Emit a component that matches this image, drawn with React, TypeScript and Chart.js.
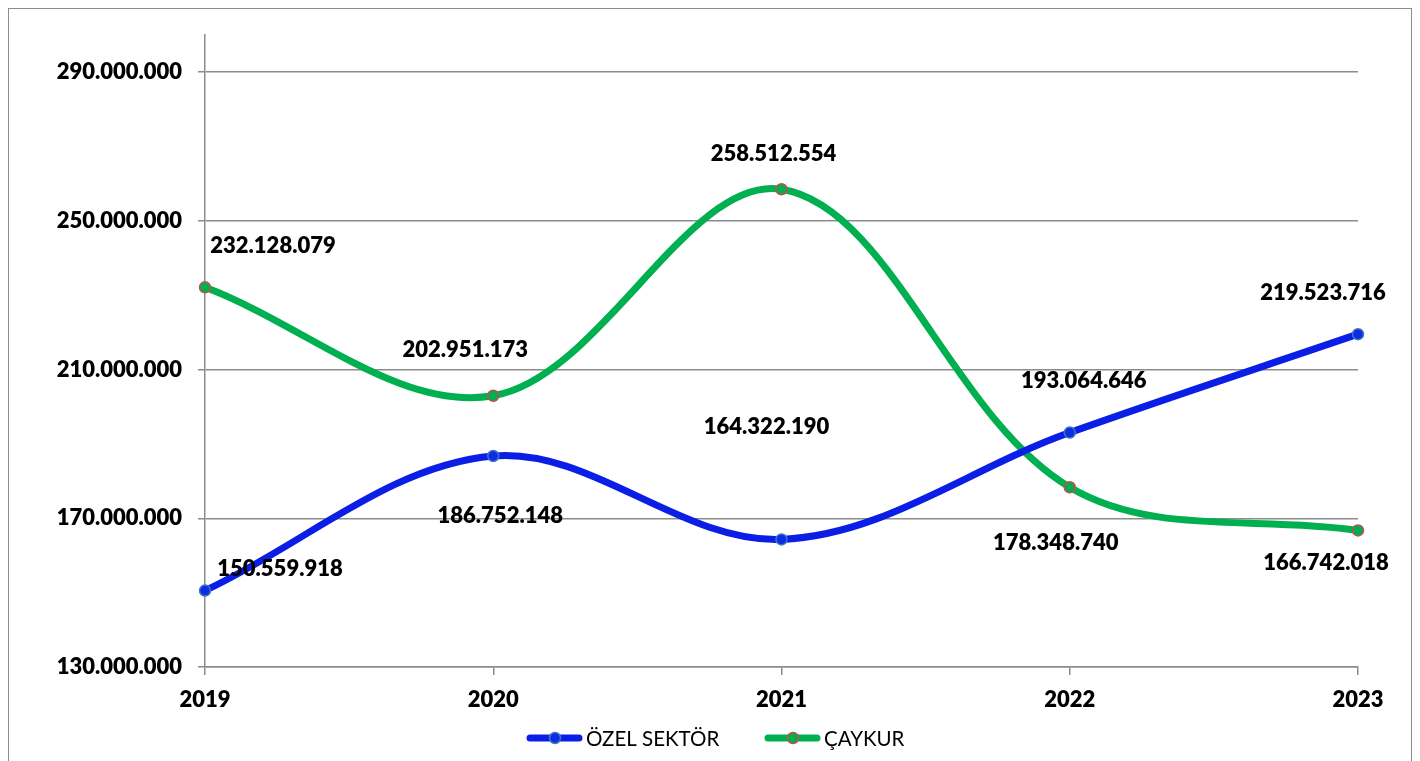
import React, { useEffect, useRef } from "react";
import { Chart, registerables } from "chart.js";

Chart.register(...registerables);

const years = ["2019", "2020", "2021", "2022", "2023"];
const ozelSektor = [150559918, 186752148, 164322190, 193064646, 219523716];
const caykur = [232128079, 202951173, 258512554, 178348740, 166742018];
const yTicks = [130000000, 170000000, 210000000, 250000000, 290000000];
const seriesNames = ["ÖZEL SEKTÖR", "ÇAYKUR"];

// label offsets (dx, dy) from each point, in pixels
const ozelOffsets = [[75, -22], [7, 60], [-15, -112], [14, -52], [-35, -41]];
const caykurOffsets = [[68, -41], [-28, -46], [-8, -35], [-14, 56], [-32, 33]];

const FONT = "Lato, 'Open Sans', sans-serif";
const fmt = (v: number) => Math.round(v).toString().replace(/\B(?=(\d{3})+(?!\d))/g, ".");

const labelPlugin = {
  id: "valueLabels",
  afterDatasetsDraw(chart: any) {
    const ctx = chart.ctx;
    ctx.save();
    ctx.font = `800 22px ${FONT}`;
    ctx.fillStyle = "#000";
    ctx.textAlign = "center";
    ctx.textBaseline = "middle";
    const offs = [ozelOffsets, caykurOffsets];
    chart.data.datasets.forEach((ds: any, di: number) => {
      const meta = chart.getDatasetMeta(di);
      meta.data.forEach((pt: any, i: number) => {
        const [dx, dy] = offs[di][i];
        ctx.fillText(fmt(ds.data[i]), pt.x + dx, pt.y + dy);
      });
    });
    ctx.restore();
  },
};

const legendPlugin = {
  id: "customLegend",
  afterDraw(chart: any) {
    const ctx = chart.ctx;
    ctx.save();
    const y = 729;
    const items = [
      { x: 518, line: "#0A1EE6", fill: "#0A2FE0", border: "#4472C4", text: seriesNames[0] },
      { x: 756, line: "#00B050", fill: "#00B050", border: "#C0504D", text: seriesNames[1] },
    ];
    items.forEach((it) => {
      ctx.strokeStyle = it.line;
      ctx.lineWidth = 7;
      ctx.lineCap = "round";
      ctx.beginPath();
      ctx.moveTo(it.x + 3, y);
      ctx.lineTo(it.x + 52, y);
      ctx.stroke();
      ctx.beginPath();
      ctx.arc(it.x + 28, y, 5.5, 0, Math.PI * 2);
      ctx.fillStyle = it.fill;
      ctx.fill();
      ctx.lineWidth = 1.5;
      ctx.strokeStyle = it.border;
      ctx.stroke();
      ctx.fillStyle = "#000";
      ctx.font = `20.5px ${FONT}`;
      ctx.textAlign = "left";
      ctx.textBaseline = "middle";
      ctx.fillText(it.text, it.x + 59, y + 1);
    });
    ctx.restore();
  },
};

export default function App() {
  const ref = useRef<HTMLCanvasElement>(null);
  useEffect(() => {
    if (!ref.current) return;
    const grid = "#8C8C8C";
    const chart = new Chart(ref.current, {
      type: "line",
      data: {
        labels: years,
        datasets: [
          {
            label: seriesNames[0],
            data: ozelSektor,
            borderColor: "#0A1EE6",
            backgroundColor: "#0A2FE0",
            pointBackgroundColor: "#0A2FE0",
            pointBorderColor: "#4472C4",
            pointBorderWidth: 1.5,
            pointRadius: 5.5,
            borderWidth: 7,
            tension: 0.35,
            fill: false,
          },
          {
            label: seriesNames[1],
            data: caykur,
            borderColor: "#00B050",
            backgroundColor: "#00B050",
            pointBackgroundColor: "#00B050",
            pointBorderColor: "#C0504D",
            pointBorderWidth: 1.5,
            pointRadius: 5.5,
            borderWidth: 7,
            tension: 0.35,
            fill: false,
          },
        ],
      },
      options: {
        responsive: false,
        animation: false,
        layout: { padding: { top: 26, right: 53, bottom: 60, left: 0 } },
        plugins: { legend: { display: false }, tooltip: { enabled: false } },
        scales: {
          x: {
            offset: false,
            grid: { drawOnChartArea: false, drawTicks: true, tickLength: 8, color: grid, lineWidth: 1.5 },
            border: { display: true, color: grid, width: 1.5 },
            ticks: { color: "#000", font: { family: FONT, size: 22, weight: "800" }, padding: 12, maxRotation: 0 },
            afterFit: (s: any) => { s.height = 42; },
          },
          y: {
            min: 130000000,
            max: 300000000,
            afterBuildTicks: (s: any) => { s.ticks = yTicks.map((v) => ({ value: v })); },
            grid: { color: grid, lineWidth: 1.5, tickLength: 7, drawTicks: true },
            border: { display: true, color: grid, width: 1.5 },
            ticks: {
              color: "#000",
              font: { family: FONT, size: 22, weight: "800" },
              padding: 16,
              callback: (v: any) => fmt(Number(v)),
            },
            afterFit: (s: any) => { s.width = 196; s.paddingTop = 0; s.paddingBottom = 0; },
          },
        },
      },
      plugins: [labelPlugin, legendPlugin],
    });
    return () => chart.destroy();
  }, []);
  return (
    <div style={{ width: 1402, height: 760, border: "1px solid #8C8C8C", background: "#fff" }}>
      <canvas ref={ref} width={1402} height={760} style={{ display: "block" }} />
    </div>
  );
}
